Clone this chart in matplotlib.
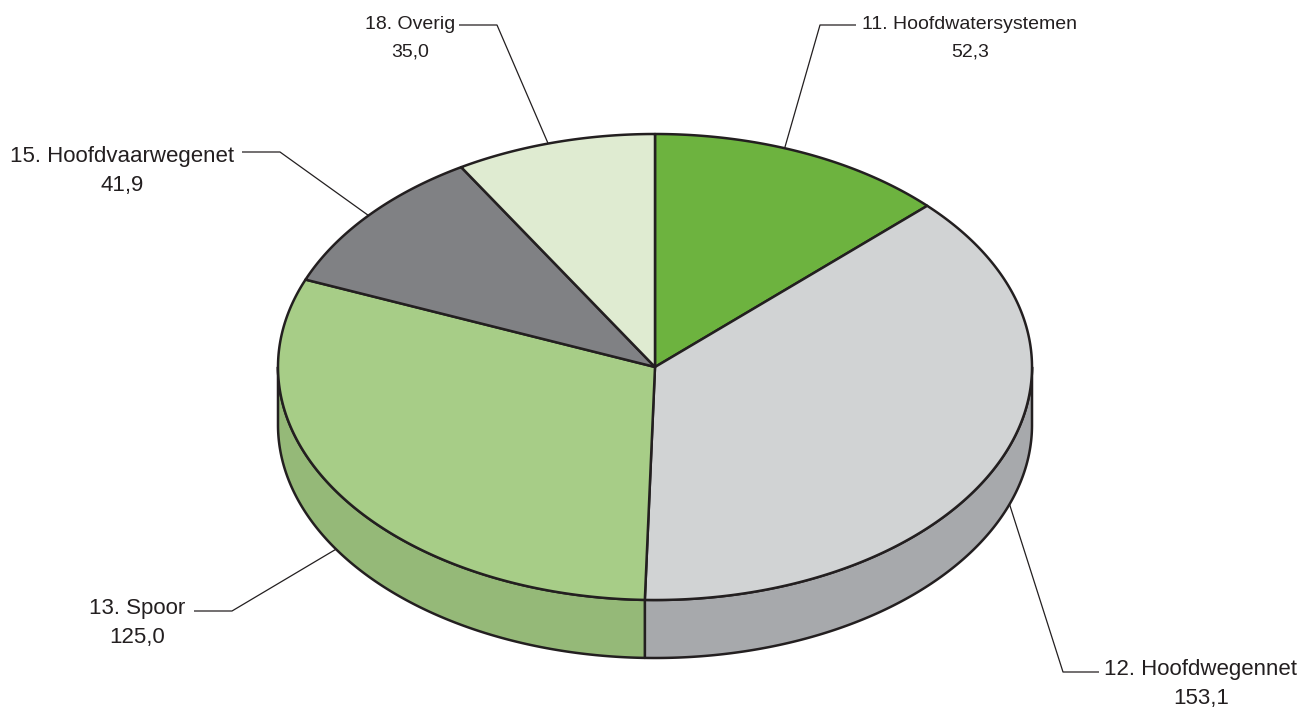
import numpy as np
import matplotlib
matplotlib.use("Agg")
import matplotlib.pyplot as plt
from matplotlib.patches import Polygon

plt.rcParams["font.family"] = ["Liberation Sans", "DejaVu Sans"]

# Data
labels = ["11. Hoofdwatersystemen", "12. Hoofdwegennet", "13. Spoor",
          "15. Hoofdvaarwegenet", "18. Overig"]
values = [52.3, 153.1, 125.0, 41.9, 35.0]
top_colors = ["#6db33f", "#d1d3d4", "#a7cd87", "#808184", "#dfebd1"]
side_colors = ["#5a9634", "#a7a9ac", "#95b978", "#606164", "#c0cfae"]

# label text positions (pixels), elbow points, font sizes, anchor tweaks
text_pos = [(970, 38), (1201, 684), (137, 623), (122, 171), (410, 38)]
elbow = [(820, 25), (1063, 672), (232, 611), (280, 152), (497, 25)]
text_ha_side = ["left", "left", "right", "right", "right"]
font_sizes = [14, 16, 16, 16, 14]
anchor_shift = [-3, -4, 1, 0, -1]

W, H = 1307, 708
cx, cy = 655, 367
rx, ry = 377, 233
depth = 58
edge = "#231f20"


def ell(t, dy=0):
    t = np.radians(t)
    return np.column_stack([cx + rx * np.sin(t), cy - ry * np.cos(t) + dy])


fig = plt.figure(figsize=(W / 100, H / 100), dpi=100)
ax = fig.add_axes([0, 0, 1, 1])
ax.set_xlim(0, W)
ax.set_ylim(H, 0)
ax.axis("off")

total = sum(values)
angles = np.cumsum([0] + [v / total * 360 for v in values])

# sides (front half only: 90..270)
for i in range(len(values)):
    a, b = max(angles[i], 90), min(angles[i + 1], 270)
    if b <= a:
        continue
    t = np.linspace(a, b, 200)
    pts = np.vstack([ell(t), ell(t[::-1], depth)])
    ax.add_patch(Polygon(pts, closed=True, facecolor=side_colors[i],
                         edgecolor=edge, linewidth=1.8, joinstyle="round"))

# top faces
for i in range(len(values)):
    t = np.linspace(angles[i], angles[i + 1], 300)
    pts = np.vstack([[cx, cy], ell(t)])
    ax.add_patch(Polygon(pts, closed=True, facecolor=top_colors[i],
                         edgecolor=edge, linewidth=1.8, joinstyle="round"))

# labels with leader lines
for i in range(len(values)):
    mid = (angles[i] + angles[i + 1]) / 2 + anchor_shift[i]
    dy = depth if 90 < mid < 270 else 0
    anchor = ell([mid], dy)[0]
    ex, ey = elbow[i]
    hx = ex + 36 if text_ha_side[i] == "left" else ex - 38
    ax.plot([anchor[0], ex, hx], [anchor[1], ey, ey], color=edge, lw=0.9,
            solid_capstyle="butt", zorder=1)
    txt = labels[i] + "\n" + f"{values[i]:.1f}".replace(".", ",")
    ls = 1.78 if font_sizes[i] == 14 else 1.5
    ax.text(text_pos[i][0], text_pos[i][1], txt, ha="center", va="center",
            fontsize=font_sizes[i], color=edge, linespacing=ls)

fig.savefig("out.png", dpi=100)
